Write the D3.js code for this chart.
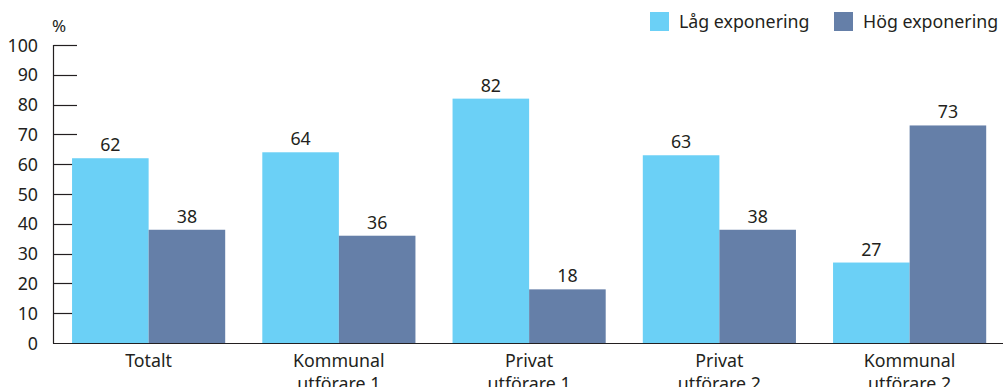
<!DOCTYPE html>
<html>
<head>
<meta charset="utf-8">
<script src="https://cdn.jsdelivr.net/npm/d3@7"></script>
<style>
  body { margin: 0; background: #fff; }
  svg text { font-family: "Noto Sans", "Open Sans", sans-serif; fill: #231f20; }
</style>
</head>
<body>
<svg id="chart" width="1003" height="387"></svg>
<script>
var categories = [["Totalt"], ["Kommunal", "utförare 1"], ["Privat", "utförare 1"], ["Privat", "utförare 2"], ["Kommunal", "utförare 2"]];
var seriesNames = ["Låg exponering", "Hög exponering"];
var lagValues = [62, 64, 82, 63, 27];
var hogValues = [38, 36, 18, 38, 73];
var yTicks = [0, 10, 20, 30, 40, 50, 60, 70, 80, 90, 100];
var colors = ["#6bd0f6", "#657fa8"];

var svg = d3.select("#chart");
var fs = "17.8px";

var y = d3.scaleLinear().domain([0, 100]).range([343, 45]);
var x = d3.scaleBand()
    .domain(d3.range(categories.length))
    .range([53.5, 1004.75])
    .paddingInner(0.195)
    .paddingOuter(0.0975);
var xs = d3.scaleBand().domain([0, 1]).range([0, x.bandwidth()]);

// y axis line + ticks pointing inward
svg.append("line")
    .attr("x1", 53.5).attr("x2", 53.5)
    .attr("y1", y(100)).attr("y2", y(0) + 0.5)
    .attr("stroke", "#231f20").attr("stroke-width", 1.2);

svg.append("g").selectAll("line")
    .data(yTicks.filter(function(d) { return d > 0; }))
    .enter().append("line")
    .attr("x1", 53.5).attr("x2", 77)
    .attr("y1", function(d) { return Math.round(y(d)) + 0.5; })
    .attr("y2", function(d) { return Math.round(y(d)) + 0.5; })
    .attr("stroke", "#231f20").attr("stroke-width", 1.2);

svg.append("g").selectAll("text")
    .data(yTicks)
    .enter().append("text")
    .attr("x", 38)
    .attr("y", function(d) { return y(d) + 6.5; })
    .attr("text-anchor", "end")
    .style("font-size", fs)
    .text(function(d) { return d; });

svg.append("text")
    .attr("x", 59).attr("y", 32)
    .attr("text-anchor", "middle")
    .style("font-size", "17px")
    .text("%");

// bars
var groups = svg.append("g").selectAll("g")
    .data(categories)
    .enter().append("g")
    .attr("transform", function(d, i) { return "translate(" + x(i) + ",0)"; });

groups.each(function(d, i) {
  var vals = [lagValues[i], hogValues[i]];
  var g = d3.select(this);
  g.selectAll("rect")
    .data(vals)
    .enter().append("rect")
    .attr("x", function(v, j) { return xs(j); })
    .attr("width", xs.bandwidth())
    .attr("y", function(v) { return y(v); })
    .attr("height", function(v) { return y(0) - y(v); })
    .attr("fill", function(v, j) { return colors[j]; });
  g.selectAll("text.val")
    .data(vals)
    .enter().append("text")
    .attr("class", "val")
    .attr("x", function(v, j) { return xs(j) + xs.bandwidth() / 2; })
    .attr("y", function(v) { return y(v) - 7; })
    .attr("text-anchor", "middle")
    .style("font-size", fs)
    .text(function(v) { return v; });
  g.selectAll("text.cat")
    .data(d)
    .enter().append("text")
    .attr("class", "cat")
    .attr("x", x.bandwidth() / 2)
    .attr("y", function(t, k) { return 367 + k * 23; })
    .attr("text-anchor", "middle")
    .style("font-size", fs)
    .text(function(t) { return t; });
});

// bottom axis line
svg.append("line")
    .attr("x1", 53).attr("x2", 1003)
    .attr("y1", y(0) + 0.5).attr("y2", y(0) + 0.5)
    .attr("stroke", "#231f20").attr("stroke-width", 1.2);

// legend
var legendX = [650, 834];
var legend = svg.append("g").selectAll("g")
    .data(seriesNames)
    .enter().append("g")
    .attr("transform", function(d, i) { return "translate(" + legendX[i] + ",12)"; });
legend.append("rect")
    .attr("width", 19).attr("height", 19)
    .attr("fill", function(d, i) { return colors[i]; });
legend.append("text")
    .attr("x", 29).attr("y", 15.5)
    .style("font-size", fs)
    .text(function(d) { return d; });
</script>
</body>
</html>
